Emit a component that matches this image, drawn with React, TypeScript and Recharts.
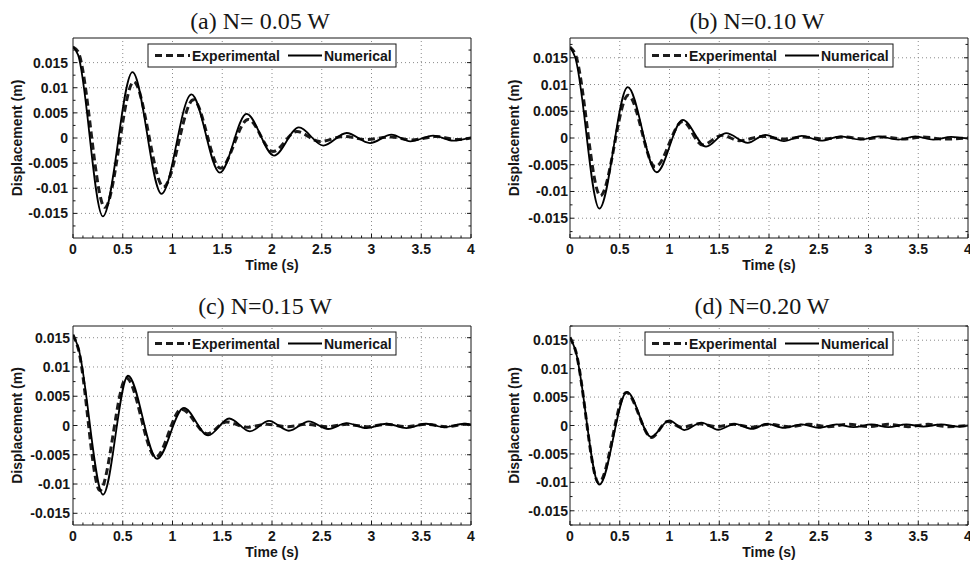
import React from "react";
import { LineChart, Line, XAxis, YAxis, ReferenceLine } from "recharts";

const SANS = '"Liberation Sans", Arial, Helvetica, sans-serif';
const SERIF = '"Liberation Serif", "Times New Roman", Times, serif';
const INK = "#161616";
const GRID = "#8a8a8a";

// axis ticks (major ones carry labels)
const X_MAJOR = [0, 0.5, 1, 1.5, 2, 2.5, 3, 3.5, 4];
const X_LABELS = ["0", "0.5", "1", "1.5", "2", "2.5", "3", "3.5", "4"];
const Y_MAJOR = [-0.015, -0.01, -0.005, 0, 0.005, 0.01, 0.015];
const Y_LABELS = ["-0.015", "-0.01", "-0.005", "0", "0.005", "0.01", "0.015"];

// (a) N = 0.05 W
const A_EXP_T = [0, 0.05, 0.32, 0.61, 0.91, 1.21, 1.48, 1.76, 2.01, 2.25, 2.48, 2.72, 2.95, 3.2, 3.4, 3.65, 3.85, 4.0];
const A_EXP_Y = [0.0181, 0.0172, -0.0138, 0.0112, -0.0097, 0.0076, -0.006, 0.0037, -0.0027, 0.0013, -0.0007, 0.0003, -0.0003, 0.0002, -0.0004, 0.0003, -0.0003, 0.0];
const A_NUM_T = [0, 0.05, 0.3, 0.598, 0.889, 1.19, 1.476, 1.744, 2.02, 2.27, 2.515, 2.75, 2.985, 3.2, 3.39, 3.62, 3.82, 4.0];
const A_NUM_Y = [0.0182, 0.0166, -0.0156, 0.0131, -0.0111, 0.0087, -0.0069, 0.0048, -0.0035, 0.0021, -0.0015, 0.001, -0.001, 0.00066, -0.00067, 0.00046, -0.00053, 0.0001];

// (b) N = 0.10 W
const B_EXP_T = [0, 0.05, 0.305, 0.585, 0.857, 1.133, 1.33, 1.53, 1.7, 1.935, 2.15, 2.35, 2.55, 2.75, 2.95, 3.15, 3.35, 3.55, 3.75, 4.0];
const B_EXP_Y = [0.017, 0.0158, -0.0108, 0.008, -0.0054, 0.0031, -0.0013, 0.0005, -0.0005, 0.0003, -0.0002, 0.0002, -0.0002, 0.0002, -0.0002, 0.0002, -0.0002, 0.0002, -0.0002, 0.0];
const B_NUM_T = [0, 0.05, 0.295, 0.58, 0.871, 1.133, 1.367, 1.568, 1.786, 1.963, 2.15, 2.33, 2.52, 2.72, 2.92, 3.1, 3.3, 3.47, 3.65, 3.83, 4.0];
const B_NUM_Y = [0.017, 0.0152, -0.0132, 0.0095, -0.0064, 0.0034, -0.0016, 0.0009, -0.0009, 0.0006, -0.0006, 0.0004, -0.0005, 0.0003, -0.0003, 0.0003, -0.0003, 0.0003, -0.0003, 0.0002, -0.0001];

// (c) N = 0.15 W
const C_EXP_T = [0, 0.05, 0.27, 0.537, 0.832, 1.09, 1.35, 1.543, 1.75, 1.95, 2.15, 2.35, 2.55, 2.75, 2.95, 3.15, 3.35, 3.55, 3.75, 3.95, 4.0];
const C_EXP_Y = [0.0155, 0.0133, -0.0111, 0.0081, -0.0054, 0.0028, -0.0014, 0.0006, -0.0003, 0.0002, -0.0002, 0.0002, -0.0002, 0.0002, -0.0002, 0.0002, -0.0002, 0.0002, -0.0002, 0.0002, 0.0];
const C_NUM_T = [0, 0.05, 0.302, 0.553, 0.845, 1.114, 1.358, 1.57, 1.778, 1.97, 2.17, 2.37, 2.565, 2.75, 2.95, 3.15, 3.35, 3.55, 3.73, 3.93, 4.0];
const C_NUM_Y = [0.0155, 0.0135, -0.0118, 0.0085, -0.0057, 0.003, -0.0017, 0.0012, -0.001, 0.0008, -0.0009, 0.0007, -0.0006, 0.0004, -0.00045, 0.0003, -0.00045, 0.0003, -0.0003, 0.0003, 0.0002];

// (d) N = 0.20 W
const D_EXP_T = [0, 0.05, 0.29, 0.565, 0.82, 0.98, 1.12, 1.3, 1.47, 1.65, 1.82, 2.0, 2.2, 2.4, 2.6, 2.8, 3.0, 3.2, 3.4, 3.6, 3.8, 4.0];
const D_EXP_Y = [0.0155, 0.0135, -0.0101, 0.0058, -0.0021, 0.0007, -0.0003, 0.0003, -0.0002, 0.0002, -0.0003, 0.0002, -0.0002, 0.0002, -0.0002, 0.0002, -0.0002, 0.0002, -0.0002, 0.0002, -0.0002, 0.0];
const D_NUM_T = [0, 0.05, 0.295, 0.573, 0.814, 0.998, 1.149, 1.32, 1.49, 1.66, 1.83, 1.98, 2.15, 2.33, 2.5, 2.68, 2.85, 3.03, 3.2, 3.38, 3.55, 3.73, 3.9, 4.0];
const D_NUM_Y = [0.0155, 0.0135, -0.0104, 0.0059, -0.002, 0.0009, -0.0008, 0.0005, -0.00075, 0.0003, -0.0006, 0.0003, -0.0004, 0.0002, -0.0004, 0.0002, -0.0003, 0.0002, -0.0003, 0.0002, -0.0002, 0.0002, -0.0002, 0.0];

type Pt = { t: number; y: number };
const zip = (ts: number[], ys: number[]): Pt[] => ts.map((t, i) => ({ t, y: ys[i] }));

// minor ticks: 0.1 s and 0.0025 m
const X_TICKS = Array.from({ length: 41 }, (_, i) => i / 10);
const Y_TICKS = Array.from({ length: 15 }, (_, i) => (i - 7) / 400);

const near = (a: number, b: number) => Math.abs(a - b) < 1e-9;
const majorIndex = (v: number, list: number[]) => list.findIndex((m) => near(m, v));

const EXP_STYLE = { stroke: "#1c1c1c", strokeWidth: 3, strokeDasharray: "7 4" };
const NUM_STYLE = { stroke: "#000", strokeWidth: 1.8 };

const CHART_W = 485;
const CHART_H = 281;
const Y_AXIS_W = 60;
const X_AXIS_H = 30;

type PanelProps = {
  title: string;
  left: number;
  top: number;
  plot: { x: number; y: number; w: number; h: number };
  yMax: number;
  tickGap: number;
  titleX: number;
  titleY: number;
  exp: Pt[];
  num: Pt[];
};

function Panel(p: PanelProps) {
  const { plot } = p;
  // top / right axes are 1px thick so their lines close the box
  const margin = {
    top: plot.y - 1,
    left: plot.x - Y_AXIS_W,
    right: CHART_W - plot.x - plot.w - 1,
    bottom: CHART_H - plot.y - plot.h - X_AXIS_H,
  };
  const yTicks = Y_TICKS.filter((v) => Math.abs(v) <= p.yMax);
  const yDomain = [-p.yMax, p.yMax];
  const font = { fontFamily: SANS, fontWeight: 700, fontSize: 14, fill: INK };

  const bottomTick = (t: any) => {
    const i = majorIndex(t.payload.value, X_MAJOR);
    return (
      <g>
        <line x1={t.x} x2={t.x} y1={t.y} y2={t.y - (i >= 0 ? 4 : 2.5)} stroke={INK} />
        {i >= 0 && (
          <text x={t.x} y={t.y + 11} textAnchor="middle" dominantBaseline="central" {...font}>
            {X_LABELS[i]}
          </text>
        )}
      </g>
    );
  };
  const topTick = (t: any) => {
    const major = majorIndex(t.payload.value, X_MAJOR) >= 0;
    return <line x1={t.x} x2={t.x} y1={t.y} y2={t.y + (major ? 4 : 2.5)} stroke={INK} />;
  };
  const leftTick = (t: any) => {
    const i = majorIndex(t.payload.value, Y_MAJOR);
    return (
      <g>
        <line x1={t.x} x2={t.x + (i >= 0 ? 4 : 2.5)} y1={t.y} y2={t.y} stroke={INK} />
        {i >= 0 && (
          <text x={t.x - p.tickGap} y={t.y} textAnchor="end" dominantBaseline="central" {...font}>
            {Y_LABELS[i]}
          </text>
        )}
      </g>
    );
  };
  const rightTick = (t: any) => {
    const major = majorIndex(t.payload.value, Y_MAJOR) >= 0;
    return <line x1={t.x} x2={t.x - (major ? 4 : 2.5)} y1={t.y} y2={t.y} stroke={INK} />;
  };

  const lx = plot.x + 75;
  const ly = plot.y + 6;

  return (
    <div style={{ position: "absolute", left: p.left, top: p.top, width: CHART_W, height: CHART_H }}>
      <LineChart width={CHART_W} height={CHART_H} margin={margin}>
        {X_MAJOR.slice(1, -1).map((v) => (
          <ReferenceLine key={`gx${v}`} x={v} stroke={GRID} strokeDasharray="1 3" />
        ))}
        {Y_MAJOR.map((v) => (
          <ReferenceLine key={`gy${v}`} y={v} stroke={GRID} strokeDasharray="1 3" />
        ))}
        <XAxis
          type="number"
          dataKey="t"
          domain={[0, 4]}
          ticks={X_TICKS}
          interval={0}
          allowDataOverflow
          height={X_AXIS_H}
          tickSize={0}
          tickMargin={0}
          tickLine={false}
          axisLine={{ stroke: INK }}
          tick={bottomTick}
          label={() => (
            <text x={plot.x + plot.w / 2} y={plot.y + plot.h + 27} textAnchor="middle" dominantBaseline="central" {...font}>
              Time (s)
            </text>
          )}
        />
        <XAxis
          xAxisId="top"
          orientation="top"
          type="number"
          domain={[0, 4]}
          ticks={X_TICKS}
          interval={0}
          allowDataOverflow
          height={1}
          tickSize={0}
          tickMargin={0}
          tickLine={false}
          axisLine={{ stroke: INK }}
          tick={topTick}
        />
        <YAxis
          type="number"
          domain={yDomain}
          ticks={yTicks}
          interval={0}
          allowDataOverflow
          width={Y_AXIS_W}
          tickSize={0}
          tickMargin={0}
          tickLine={false}
          axisLine={{ stroke: INK }}
          tick={leftTick}
          label={() => {
            const cx = plot.x - 56;
            const cy = plot.y + plot.h / 2;
            return (
              <text x={cx} y={cy} transform={`rotate(-90 ${cx} ${cy})`} textAnchor="middle" dominantBaseline="central" {...font}>
                Displacement (m)
              </text>
            );
          }}
        />
        <YAxis
          yAxisId="right"
          orientation="right"
          type="number"
          domain={yDomain}
          ticks={yTicks}
          interval={0}
          allowDataOverflow
          width={1}
          tickSize={0}
          tickMargin={0}
          tickLine={false}
          axisLine={{ stroke: INK }}
          tick={rightTick}
        />
        <Line data={p.exp} dataKey="y" name="Experimental" type="monotone" dot={false} activeDot={false} isAnimationActive={false} {...EXP_STYLE} />
        <Line data={p.num} dataKey="y" name="Numerical" type="monotone" dot={false} activeDot={false} isAnimationActive={false} {...NUM_STYLE} />
      </LineChart>
      <svg width={CHART_W} height={CHART_H} style={{ position: "absolute", left: 0, top: 0, pointerEvents: "none" }}>
        <text x={p.titleX} y={p.titleY} textAnchor="middle" fontFamily={SERIF} fontSize={24} fill={INK}>
          {p.title}
        </text>
        <rect x={lx} y={ly} width={248} height={23} fill="#fff" stroke={INK} strokeWidth={1} />
        <line x1={lx + 7} x2={lx + 42} y1={ly + 11.5} y2={ly + 11.5} {...EXP_STYLE} />
        <text x={lx + 44} y={ly + 16.5} {...font}>Experimental</text>
        <line x1={lx + 140} x2={lx + 174} y1={ly + 11.5} y2={ly + 11.5} {...NUM_STYLE} />
        <text x={lx + 176} y={ly + 16.5} {...font}>Numerical</text>
      </svg>
    </div>
  );
}

export default function App() {
  return (
    <div style={{ position: "absolute", left: 0, top: 0, width: 970, height: 562, background: "#fff", overflow: "hidden" }}>
      <Panel title="(a) N= 0.05 W" left={0} top={0} plot={{ x: 73, y: 38, w: 398, h: 200 }} yMax={0.0199} tickGap={5} titleX={260} titleY={29} exp={zip(A_EXP_T, A_EXP_Y)} num={zip(A_NUM_T, A_NUM_Y)} />
      <Panel title="(b) N=0.10 W" left={485} top={0} plot={{ x: 85, y: 38, w: 398, h: 200 }} yMax={0.0187} tickGap={2} titleX={272} titleY={29} exp={zip(B_EXP_T, B_EXP_Y)} num={zip(B_NUM_T, B_NUM_Y)} />
      <Panel title="(c) N=0.15 W" left={0} top={281} plot={{ x: 73, y: 45, w: 398, h: 199 }} yMax={0.017} tickGap={3} titleX={265} titleY={33} exp={zip(C_EXP_T, C_EXP_Y)} num={zip(C_NUM_T, C_NUM_Y)} />
      <Panel title="(d) N=0.20 W" left={485} top={281} plot={{ x: 85, y: 45, w: 398, h: 199 }} yMax={0.0175} tickGap={2} titleX={277} titleY={33} exp={zip(D_EXP_T, D_EXP_Y)} num={zip(D_NUM_T, D_NUM_Y)} />
    </div>
  );
}
